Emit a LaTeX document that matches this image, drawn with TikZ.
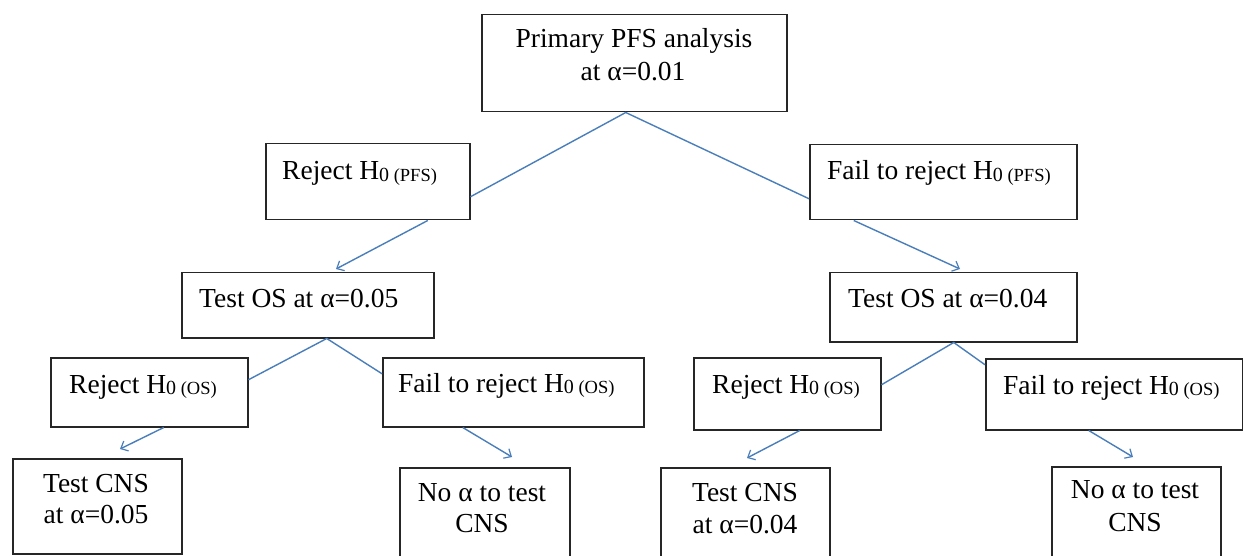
\documentclass[tikz,border=0pt]{standalone}
\usepackage{fontspec}
\setmainfont{Liberation Serif}
\usetikzlibrary{arrows.meta,calc}
\definecolor{conn}{HTML}{4A7EBB}
\newcommand\hzero[1]{H\raisebox{-1.5pt}{\fontsize{20}{20}\selectfont 0\fontsize{18.5}{18.5}\selectfont\ (#1)}}
\begin{document}
\begin{tikzpicture}[x=1pt,y=-1pt,
  box/.style={draw=black!85, line width=1.5pt, anchor=north west, inner sep=0pt, fill=white},
  txt/.style={inner sep=0pt, font=\fontsize{27.5}{32}\selectfont},
  link/.style={draw=conn, line width=1.4pt},
  arr/.style={link, -{Straight Barb[length=6pt,width=11pt,line width=1.2pt]}}]
\useasboundingbox (0,0) rectangle (1243,556);
\clip (0,0) rectangle (1243,556);
\fill[white] (0,0) rectangle (1243,556);
% boxes
\node[box, minimum width=305pt, minimum height=97pt] (top) at (481,14) {};
\node[box, minimum width=204pt, minimum height=76pt] (rpfs) at (265,143) {};
\node[box, minimum width=267pt, minimum height=75pt] (fpfs) at (809,144) {};
\node[box, minimum width=252pt, minimum height=65pt] (os05) at (181,272) {};
\node[box, minimum width=247pt, minimum height=69pt] (os04) at (829,272) {};
\node[box, minimum width=197pt, minimum height=69pt] (rosl) at (50,357) {};
\node[box, minimum width=261pt, minimum height=69pt] (fosl) at (382,357) {};
\node[box, minimum width=187pt, minimum height=72pt] (rosr) at (693,357) {};
\node[box, minimum width=257pt, minimum height=71pt] (fosr) at (985,358) {};
\node[box, minimum width=169pt, minimum height=95pt] (cnsl) at (12,458) {};
\node[box, minimum width=170pt, minimum height=95pt] (noal) at (399,467) {};
\node[box, minimum width=169pt, minimum height=95pt] (cnsr) at (660,467) {};
\node[box, minimum width=169pt, minimum height=95pt] (noar) at (1051,466) {};
% texts
\node[txt, anchor=base] (ttop1) at (634,48) {Primary PFS analysis};
\node[txt, anchor=base] (ttop2) at (633,81) {at α=0.01};
\node[txt, anchor=base west] (trpfs) at (282,180) {Reject \hzero{PFS}};
\node[txt, anchor=base west] (tfpfs) at (827,180) {Fail to reject \hzero{PFS}};
\node[txt, anchor=base west] (tos05) at (199,307) {Test OS at α=0.05};
\node[txt, anchor=base west] (tos04) at (848,307) {Test OS at α=0.04};
\node[txt, anchor=base west] (trosl) at (69,393) {Reject \hzero{OS}};
\node[txt, anchor=base west] (tfosl) at (398,392) {Fail to reject \hzero{OS}};
\node[txt, anchor=base west] (trosr) at (712,393) {Reject \hzero{OS}};
\node[txt, anchor=base west] (tfosr) at (1003,394) {Fail to reject \hzero{OS}};
\node[txt, anchor=base] (tcnsl1) at (96,492) {Test CNS};
\node[txt, anchor=base] (tcnsl2) at (96,523) {at α=0.05};
\node[txt, anchor=base] (tnoal1) at (482,501) {No α to test};
\node[txt, anchor=base] (tnoal2) at (482,532) {CNS};
\node[txt, anchor=base] (tcnsr1) at (745,501) {Test CNS};
\node[txt, anchor=base] (tcnsr2) at (745,533) {at α=0.04};
\node[txt, anchor=base] (tnoar1) at (1135,498) {No α to test};
\node[txt, anchor=base] (tnoar2) at (1135,531) {CNS};
% arrow tip coordinates
\coordinate (tipa) at (336,269);
\coordinate (tipb) at (960,269);
\coordinate (tipc) at (120,449);
\coordinate (tipd) at (512,457);
\coordinate (tipe) at (747,458);
\coordinate (tipf) at (1133,457);
% branching lines
\draw[link] ($(rpfs.east)+(0,15)$) -- ($(top.south)+(-8.5,0)$) -- ($(fpfs.west)+(0,16.5)$);
\draw[link] ($(rosl.east)+(0,-12.5)$) -- ($(os05.south)+(19,0)$) -- ($(fosl.west)+(0,-18.5)$);
\draw[link] ($(rosr.east)+(0,-9)$) -- ($(os04.south)+(0.5,0)$) -- ($(fosr.west)+(0,-29.5)$);
% arrows
\draw[arr] ($(rpfs.south)+(60,0)$) -- (tipa);
\draw[arr] ($(fpfs.south)+(-89.5,0)$) -- (tipb);
\draw[arr] ($(rosl.south)+(14.5,0)$) -- (tipc);
\draw[arr] ($(fosl.south)+(-50.5,0)$) -- (tipd);
\draw[arr] ($(rosr.south)+(12.5,0)$) -- (tipe);
\draw[arr] ($(fosr.south)+(-25.5,0)$) -- (tipf);
\end{tikzpicture}
\end{document}
